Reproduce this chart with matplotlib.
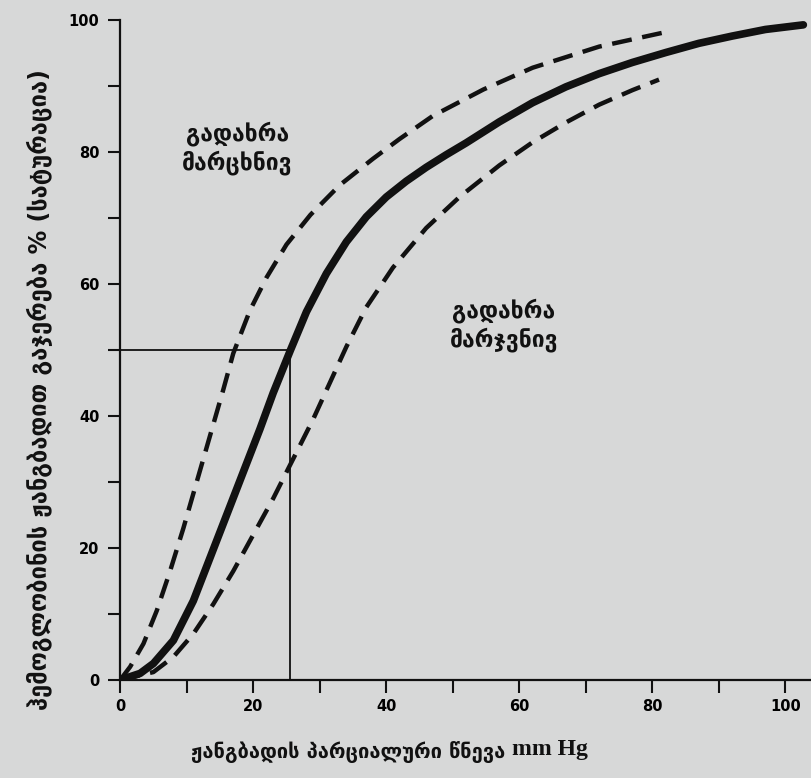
# >>>> </> EXTERNAL IMPORTS </>
# >>>> ************************************************************************************************
import numpy as np
from matplotlib import pyplot as plt
from matplotlib.ticker import MultipleLocator
# >>>> ************************************************************************************************

# ___________________________________________________________________________________________
# --- DATA ---
normal_po2 = [0, 3, 5, 8, 11, 13.5, 16, 18.5, 21, 23, 25.6, 28, 31, 34, 37, 40, 43, 46,
              49, 52, 57, 62, 67, 72, 77, 82, 87, 92, 97, 102.7]
normal_sat = [0, 1, 2.5, 6, 12, 18.5, 25, 31.5, 38, 43.5, 50, 55.8, 61.6, 66.4, 70.2, 73.2,
              75.6, 77.7, 79.6, 81.4, 84.6, 87.5, 89.9, 91.9, 93.6, 95.1, 96.5, 97.6,
              98.6, 99.3]

left_po2 = [0, 1.5, 3.5, 5.5, 7.5, 9.5, 11.5, 13.5, 15.5, 17, 19.5, 22, 25, 28.6, 33,
            38, 42, 47, 54.6, 62, 72, 82]
left_sat = [0, 2, 5.5, 10.5, 16.5, 23, 30, 37, 44, 49.5, 56, 61, 66, 70.5, 75,
            79, 82, 85.5, 89.5, 92.8, 96, 98.2]

right_po2 = [0, 5, 8, 11, 14, 17, 20, 23, 26, 29, 31.5, 34, 37, 41, 46, 51, 57, 62,
             67, 72, 77, 81]
right_sat = [0, 1.2, 3.5, 7, 11.5, 16.5, 22, 27.5, 33.5, 39.5, 45, 50.5, 56.5, 62.5,
             68.5, 73.2, 78, 81.5, 84.5, 87.2, 89.4, 91]

p50_po2 = 25.6
p50_sat = 50

x_ticks = [0, 20, 40, 60, 80, 100]
y_ticks = [0, 20, 40, 60, 80, 100]

x_label_ka = "ჟანგბადის პარციალური წნევა"
x_label_unit = "mm Hg"
y_label = "ჰემოგლობინის ჟანგბადით გაჯერება % (სატურაცია)"
left_note = "გადახრა\nმარცხნივ"
right_note = "გადახრა\nმარჯვნივ"

# ___________________________________________________________________________________________
# --- FIGURE SETUP ---
bg_color = "#d7d8d8"
ink = "#111111"

fig = plt.figure(figsize=(8.12, 7.78), dpi=100, facecolor=bg_color)
ax = fig.add_axes([0.148, 0.126, 0.852, 0.848], facecolor=bg_color)

# ___________________________________________________________________________________________
# --- CURVES ---
ax.plot(normal_po2, normal_sat, color=ink, lw=5.5, solid_capstyle="round",
        solid_joinstyle="round")
ax.plot(left_po2, left_sat, color=ink, lw=3.2, dashes=(4.5, 2.4))
ax.plot(right_po2, right_sat, color=ink, lw=3.2, dashes=(4.5, 2.4))

# --- P50 guide lines ---
ax.plot([-1.6, p50_po2], [p50_sat, p50_sat], color=ink, lw=1.3, clip_on=False)
ax.plot([p50_po2, p50_po2], [0, p50_sat], color=ink, lw=1.3)

# ___________________________________________________________________________________________
# --- ANNOTATIONS ---
ax.text(17.6, 80.6, left_note, ha="center", va="center", fontsize=16.5,
        fontweight="bold", linespacing=1.25, color=ink)
ax.text(57.7, 53.8, right_note, ha="center", va="center", fontsize=16.5,
        fontweight="bold", linespacing=1.25, color=ink)

# ___________________________________________________________________________________________
# --- AXES STYLE ---
ax.set_xlim(0, 104)
ax.set_ylim(0, 100)
for side in ["top", "right"]:
    ax.spines[side].set_visible(False)
for side in ["left", "bottom"]:
    ax.spines[side].set_linewidth(1.6)
    ax.spines[side].set_color(ink)

ax.set_xticks(x_ticks)
ax.set_yticks(y_ticks)
ax.xaxis.set_minor_locator(MultipleLocator(10))
ax.yaxis.set_minor_locator(MultipleLocator(10))
ax.tick_params(which="both", direction="out", length=9, width=1.5, color=ink)
ax.tick_params(axis="x", pad=5, labelsize=10.5)
ax.tick_params(axis="y", pad=6, labelsize=10.5)
for lbl in ax.get_xticklabels() + ax.get_yticklabels():
    lbl.set_fontweight("heavy")

# --- axis titles (placed in figure coords) ---
fig.text(505 / 812, 1 - 752 / 778, x_label_ka, ha="right", va="center",
         fontsize=14.5, fontweight="bold", color=ink)
fig.text(512 / 812, 1 - 750 / 778, x_label_unit, ha="left", va="center",
         fontsize=17, fontweight="bold", family="Liberation Serif", color=ink)
fig.text(40 / 812, 1 - 390 / 778, y_label, ha="center", va="center", rotation=90,
         fontsize=17, fontweight="bold", color=ink)

# ___________________________________________________________________________________________
# --- SAVE ---
fig.savefig("out.png", dpi=100, facecolor=bg_color)
